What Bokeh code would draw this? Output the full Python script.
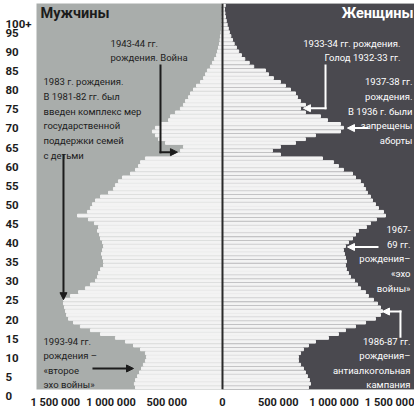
from bokeh.plotting import figure
from bokeh.models import (Range1d, FixedTicker, Span, BoxAnnotation, Label,
                          Arrow, NormalHead)
from bokeh.embed import file_html
from bokeh.resources import INLINE

# ---------------- data (thousands of people, by single year of age) ----------------
ages = list(range(0, 101))
men = [780, 790, 780, 762, 744, 726, 709, 691, 682, 691,
       735, 798, 870, 960, 1094, 1184, 1274, 1336, 1381, 1399,
       1408, 1417, 1426, 1426, 1363, 1291, 1229, 1184, 1139, 1121,
       1112, 1094, 1067, 1067, 1076, 1085, 1076, 1067, 1076, 1094,
       1103, 1121, 1112, 1148, 1202, 1300, 1211, 1184, 1166, 1139,
       1094, 1022, 978, 960, 933, 897, 825, 780, 753, 735,
       691, 466, 377, 350, 511, 574, 601, 628, 601, 556,
       484, 466, 422, 377, 350, 332, 305, 287, 260, 233,
       197, 170, 152, 135, 108, 90, 72, 54, 45, 36,
       27, 22, 18, 13, 9, 8, 6, 5, 4, 3, 5]
women = [771, 789, 780, 762, 744, 726, 700, 682, 682, 700,
         726, 771, 834, 951, 1040, 1103, 1193, 1283, 1372, 1417,
         1435, 1417, 1390, 1354, 1309, 1283, 1238, 1211, 1184, 1148,
         1130, 1112, 1103, 1112, 1103, 1094, 1085, 1103, 1130, 1166,
         1193, 1220, 1291, 1327, 1381, 1462, 1444, 1399, 1372, 1345,
         1327, 1300, 1283, 1265, 1238, 1193, 1166, 1085, 1040, 996,
         897, 520, 448, 520, 655, 744, 834, 1058, 1085, 1058,
         942, 879, 744, 700, 744, 700, 673, 655, 610, 565,
         520, 457, 413, 386, 280, 240, 200, 170, 145, 125,
         105, 90, 75, 62, 52, 42, 34, 27, 22, 18, 25]

age_ticks = list(range(0, 101, 5))
age_tick_labels = [str(a) for a in age_ticks[:-1]] + ["100+"]
x_ticks = [-1500000, -1000000, -500000, 0, 500000, 1000000, 1500000]
x_tick_labels = ["1 500 000", "1 000 000", "500 000", "0", "500 000", "1 000 000", "1 500 000"]

title_men = "Мужчины"
title_women = "Женщины"

# ---------------- styling ----------------
LEFT_BG = "#a9adab"
RIGHT_BG = "#4a494f"
BAR = "#f3f3f3"
DARK = "#1c1c1c"
FONT = "Roboto"
FIG_SPACE = "\u2007"

p = figure(width=414, height=411, title=None,
           x_range=Range1d(-1668000, 1722000), y_range=Range1d(-0.5, 100.5),
           output_backend="svg", toolbar_location=None,
           min_border_left=36, min_border_right=0, min_border_top=3, min_border_bottom=21)
p.background_fill_color = LEFT_BG
p.border_fill_color = "white"
p.outline_line_color = None
p.grid.visible = False

p.add_layout(BoxAnnotation(left=0, fill_color=RIGHT_BG, fill_alpha=1, line_color=None, level="underlay"))

p.hbar(y=ages, left=[-m * 1000 for m in men], right=0, height=0.72, color=BAR)
p.hbar(y=ages, left=0, right=[w * 1000 for w in women], height=0.72, color=BAR)

p.add_layout(Span(location=0, dimension="height", line_color="#2a2a2a", line_width=2))

# x axis
xa = p.xaxis[0]
xa.ticker = FixedTicker(ticks=x_ticks)
xa.major_label_overrides = {t: l for t, l in zip(x_ticks, x_tick_labels)}
xa.axis_line_color = None
xa.major_tick_line_color = None
xa.minor_tick_line_color = None
xa.major_tick_out = 0
xa.major_tick_in = 0
xa.minor_tick_out = 0
xa.major_label_standoff = 6
xa.major_label_text_font = FONT
xa.major_label_text_font_style = "bold"
xa.major_label_text_font_size = "11px"
xa.major_label_text_color = DARK

# y axis: labels padded with figure spaces (left-aligned look) and set half a line low
ya = p.yaxis[0]
ya.ticker = FixedTicker(ticks=age_ticks)
ya.major_label_overrides = {a: "\n" + l + FIG_SPACE * (4 - len(l))
                            for a, l in zip(age_ticks, age_tick_labels)}
ya.axis_line_color = None
ya.major_tick_line_color = None
ya.minor_tick_line_color = None
ya.major_tick_out = 0
ya.major_tick_in = 0
ya.minor_tick_out = 0
ya.major_label_standoff = 5
ya.major_label_text_font = FONT
ya.major_label_text_font_style = "bold"
ya.major_label_text_font_size = "11.5px"
ya.major_label_text_color = DARK

# titles
p.add_layout(Label(x=-1632000, y=100.0, text=title_men, text_font=FONT, text_font_style="bold",
                   text_font_size="14.5px", text_color=DARK, text_baseline="top", text_align="left"))
p.add_layout(Label(x=1713000, y=100.0, text=title_women, text_font=FONT, text_font_style="bold",
                   text_font_size="14.5px", text_color="white", text_baseline="top", text_align="right"))


def note(x, y, text, color, align):
    p.add_layout(Label(x=x, y=y, text=text, text_font=FONT, text_font_size="9.5px",
                       text_color=color, text_baseline="top", text_align=align,
                       text_line_height=1.33))


def seg(x0, y0, x1, y1, color, head=False):
    end = NormalHead(size=7, fill_color=color, line_color=color) if head else None
    p.add_layout(Arrow(end=end, x_start=x0, y_start=y0, x_end=x1, y_end=y1,
                       line_color=color, line_width=2, line_cap="square"))


# left notes
note(-1004000, 91.6, "1943-44 гг.\nрождения. Война", DARK, "left")
seg(-556000, 84.3, -556000, 61.6, DARK)
seg(-556000, 61.6, -404000, 61.6, DARK, head=True)

note(-1605000, 81.4, "1983 г. рождения.\nВ 1981-82 гг. был\nвведен комплекс мер\n"
     "государственной\nподдержки семей\nс детьми", DARK, "left")
seg(-1426000, 60.8, -1426000, 23.0, DARK, head=True)

note(-1605000, 13.6, "1993-94 гг.\nрождения –\n«второе\nэхо войны»", DARK, "left")
seg(-1157000, 5.0, -798000, 5.0, DARK, head=True)

# right notes
note(1596000, 91.6, "1933-34 гг. рождения.\nГолод 1932-33 гг.", "white", "right")
seg(924000, 84.3, 924000, 73.1, "white")
seg(924000, 73.1, 726000, 73.1, "white", head=True)

note(1704000, 81.4, "1937-38 гг.\nрождения.\nВ 1936 г. были\nзапрещены\nаборты", "white", "right")
seg(1300000, 67.9, 1121000, 67.9, "white", head=True)

note(1686000, 42.8, "1967-\n69 гг.\nрождения–\n«эхо\nвойны»", "white", "right")
seg(1390000, 36.8, 1121000, 36.8, "white", head=True)

note(1686000, 13.6, "1986-87 гг.\nрождения–\nантиалкогольная\nкампания", "white", "right")
seg(1596000, 13.3, 1596000, 19.9, "white")
seg(1596000, 19.9, 1435000, 19.9, "white", head=True)

open("out.html", "w").write(file_html(p, INLINE))
